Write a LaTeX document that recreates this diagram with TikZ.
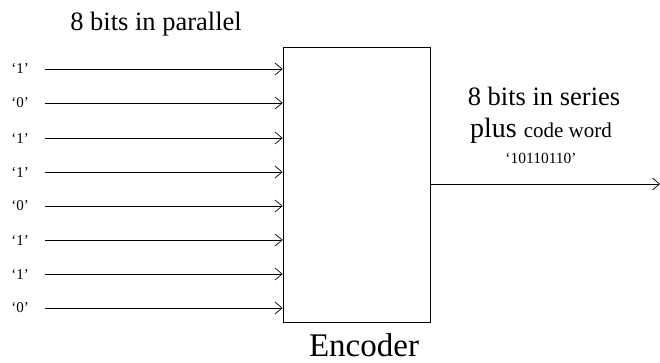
\documentclass[tikz,border=0pt]{standalone}
\usepackage{fontspec}
\setmainfont{Liberation Serif}
\usetikzlibrary{arrows.meta}
\begin{document}
\begin{tikzpicture}[x=1pt,y=-1pt,
  line/.style={line width=0.8pt,-{Straight Barb[length=7pt,width=12pt,line width=0.7pt]}},
  bitlbl/.style={font=\fontsize{15}{17}\selectfont,anchor=center}]
\useasboundingbox (0,0) rectangle (660,362);
\node[draw,line width=0.8pt,minimum width=147pt,minimum height=275pt,inner sep=0pt] (enc) at (356.5,184.5) {};
\node[font=\fontsize{26.5}{30}\selectfont] (t1) at (156,24) {8 bits in parallel};
\node[font=\fontsize{33}{36}\selectfont,anchor=base,inner sep=0pt] (t2) at (364,356) {Encoder};
\node[font=\fontsize{26.5}{30}\selectfont] (t3) at (544,96) {8 bits in series};
\node[anchor=base] (t4) at (541,137) {\fontsize{28}{30}\selectfont plus \fontsize{21}{24}\selectfont code word};
\node[font=\fontsize{15.5}{18}\selectfont] (t5) at (541,158) {‘10110110’};
\foreach \i/\b/\y in {1/1/69,2/0/103,3/1/138,4/1/172,5/0/206,6/1/240,7/1/274,8/0/308}{
  \node[bitlbl] (b\i) at (20,\y) {‘\b’};
  \coordinate (s\i) at (45,\y);
  \draw[line] (s\i) -- (enc.west |- s\i);
}
\coordinate (out) at (660,184);
\draw[line] (enc.east |- out) -- (out);
\end{tikzpicture}
\end{document}
